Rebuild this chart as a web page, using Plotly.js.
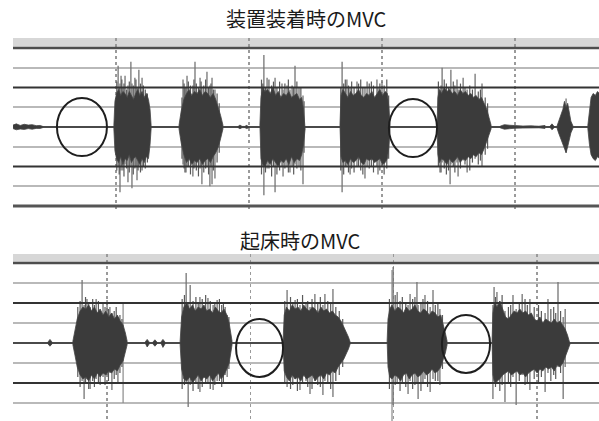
<!DOCTYPE html>
<html><head><meta charset="utf-8">
<script src="https://cdn.plot.ly/plotly-3.0.1.min.js"></script>
<style>html,body{margin:0;padding:0;background:#fff}#chart{width:599px;height:421px}</style>
</head><body><div id="chart"></div>
<script>
// ---- Titles ----
const topTitle = '装置装着時のMVC';
const bottomTitle = '起床時のMVC';

// ---- Time ranges (s) ----
const topTimeRange = [1.128, 23.158];
const bottomTimeRange = [1.72, 22.16];

// ---- Top panel: EMG burst envelopes (time s, upper / lower amplitude) ----
const topBurstT = [
  [1.13,1.25,1.40,1.55,1.70,1.85,2.00,2.15,2.25],
  [4.92,4.96,5.02,5.10,5.18,5.26,5.34,5.42,5.50,5.58,5.66,5.74,5.82,5.90,5.98,6.06,6.14,6.22,6.28,6.32],
  [7.37,7.45,7.55,7.65,7.75,7.85,7.95,8.05,8.15,8.25,8.35,8.45,8.55,8.65,8.75,8.85,8.93,9.02],
  [9.58,9.66,9.74,9.84,9.92,10.00],
  [10.41,10.45,10.52,10.60,10.70,10.80,10.90,11.00,11.10,11.20,11.30,11.40,11.50,11.60,11.70,11.80,11.90,11.98,12.05,12.11],
  [13.42,13.46,13.53,13.62,13.72,13.82,13.92,14.02,14.12,14.22,14.32,14.42,14.52,14.62,14.72,14.82,14.92,15.02,15.12,15.20,15.26,15.30],
  [17.07,17.10,17.16,17.24,17.34,17.44,17.54,17.64,17.74,17.84,17.94,18.04,18.14,18.24,18.34,18.44,18.54,18.64,18.74,18.84,18.94,19.02,19.10],
  [19.44,19.60,19.80,20.00,20.30,20.60,20.90,21.13],
  [21.30,21.39,21.48],
  [21.58,21.64,21.72,21.80,21.86,21.92,21.98,22.04,22.10,22.18],
  [22.74,22.80,22.86,22.94,23.02,23.10,23.18]
];
const topBurstUpper = [
  [0.10,0.16,0.08,0.14,0.10,0.12,0.07,0.08,0.03],
  [0.1,1.3,1.7,1.9,1.6,1.8,1.7,1.5,1.8,1.6,1.4,1.7,1.9,1.6,1.8,1.5,1.7,1.4,0.9,0.1],
  [0.1,0.8,1.4,1.7,1.9,1.6,1.8,1.7,1.9,1.6,1.8,1.7,1.5,1.7,1.4,1.0,0.6,0.1],
  [0.02,0.10,0.03,0.03,0.09,0.02],
  [0.1,1.5,2.0,1.8,1.9,1.7,2.0,1.6,1.8,1.5,1.7,1.6,1.8,1.5,1.6,1.7,1.4,1.5,0.9,0.1],
  [0.1,1.6,1.9,1.7,1.5,1.8,1.6,1.7,1.9,1.6,1.5,1.7,1.6,1.8,1.5,1.7,1.9,1.6,1.8,1.7,1.0,0.1],
  [0.1,1.5,1.9,1.7,2.0,1.8,1.9,1.7,1.8,1.6,1.9,1.7,1.8,1.6,1.7,1.5,1.6,1.4,1.5,1.2,0.9,0.5,0.1],
  [0.04,0.12,0.09,0.06,0.05,0.06,0.04,0.08],
  [0.02,0.16,0.02],
  [0.05,0.3,0.6,0.9,1.3,1.0,1.2,0.7,0.3,0.05],
  [0.1,0.9,1.5,1.7,1.6,1.8,1.7]
];
const topBurstLower = [
  [-0.08,-0.14,-0.10,-0.12,-0.08,-0.11,-0.07,-0.07,-0.03],
  [-0.1,-1.2,-1.6,-1.8,-1.5,-1.9,-1.6,-1.7,-1.4,-1.8,-1.6,-1.5,-1.7,-1.9,-1.6,-1.8,-1.5,-1.6,-0.9,-0.1],
  [-0.1,-0.8,-1.4,-1.8,-1.6,-1.9,-1.7,-1.8,-1.6,-1.9,-1.7,-1.6,-1.8,-1.5,-1.3,-1.0,-0.6,-0.1],
  [-0.02,-0.09,-0.03,-0.03,-0.08,-0.02],
  [-0.1,-1.6,-1.9,-2.0,-1.7,-1.9,-1.6,-1.8,-2.0,-1.7,-1.8,-1.6,-1.9,-1.5,-1.8,-1.6,-1.7,-1.4,-0.9,-0.1],
  [-0.1,-1.5,-1.8,-1.7,-1.9,-1.6,-1.8,-1.7,-1.5,-1.8,-1.9,-1.6,-1.7,-1.6,-1.8,-1.7,-1.6,-1.9,-1.8,-1.6,-1.0,-0.1],
  [-0.1,-1.4,-1.8,-1.6,-1.7,-1.9,-1.6,-1.8,-1.7,-1.5,-1.8,-1.6,-1.7,-1.5,-1.6,-1.4,-1.5,-1.3,-1.4,-1.1,-0.8,-0.4,-0.1],
  [-0.04,-0.11,-0.08,-0.06,-0.05,-0.06,-0.04,-0.07],
  [-0.02,-0.14,-0.02],
  [-0.05,-0.3,-0.6,-0.9,-1.1,-1.3,-1.0,-0.7,-0.3,-0.05],
  [-0.1,-0.9,-1.4,-1.6,-1.7,-1.5,-1.6]
];
// Top panel: tall individual peaks
const topSpikeT  = [5.08,5.15,5.19,5.26,5.34,5.45,5.56,5.60,5.71,5.79,5.86,5.98,
                    7.52,7.59,7.67,7.89,7.97,8.16,8.23,8.42,8.53,8.61,8.72,
                    10.56,10.68,10.98,11.24,11.28,11.43,11.54,11.73,11.88,12.03,
                    13.50,13.68,13.80,14.06,14.36,14.44,14.81,14.85,15.00,
                    17.18,17.26,17.56,17.59,17.82,17.86,18.05,18.20,18.50,18.76,
                    21.92];
const topSpikeHi = [3.1,2.2,2.6,2.0,2.6,2.1,3.3,2.2,2.5,2.0,2.9,2.5,
                    2.4,2.0,2.6,2.1,3.3,2.5,2.0,2.8,2.1,2.5,1.9,
                    3.65,2.5,2.5,2.2,1.9,2.1,1.9,3.1,2.0,1.6,
                    3.3,2.4,2.0,2.3,2.0,2.3,2.4,2.0,2.3,
                    1.9,3.0,2.0,2.9,2.4,1.9,2.5,1.9,2.7,2.2,
                    1.45];
const topSpikeLo = [-2.0,-3.3,-2.2,-2.2,-1.9,-2.8,-2.0,-3.1,-2.1,-2.7,-2.0,-2.2,
                    -1.9,-2.3,-2.0,-2.5,-2.0,-2.1,-2.9,-2.0,-3.0,-2.9,-2.6,
                    -3.45,-2.1,-3.3,-2.0,-2.5,-2.0,-2.3,-1.9,-2.0,-2.9,
                    -3.3,-2.0,-2.4,-2.0,-2.6,-2.0,-2.0,-2.4,-2.0,
                    -2.3,-1.8,-2.9,-1.9,-1.8,-2.5,-1.7,-2.3,-1.6,-2.0,
                    -1.3];
// Top panel: ragged fringe peaks just outside the dense core
const topFringeT  = [5.03,5.12,5.22,5.30,5.40,5.50,5.65,5.75,5.83,5.92,6.03,6.10,6.18,
                     7.48,7.56,7.63,7.72,7.80,7.93,8.02,8.10,8.20,8.30,8.37,8.48,8.57,8.66,8.80,8.88,
                     10.47,10.52,10.62,10.75,10.85,10.92,11.05,11.15,11.35,11.48,11.62,11.68,11.80,11.95,12.07,
                     13.45,13.56,13.62,13.74,13.86,13.95,14.12,14.20,14.28,14.52,14.60,14.68,14.92,15.08,15.18,15.25,
                     17.12,17.22,17.34,17.42,17.50,17.68,17.74,17.95,18.12,18.30,18.40,18.62,18.70,18.88,18.97];
const topFringeHi = [2.3,2.0,2.4,2.2,1.9,2.3,2.1,2.4,2.0,2.2,2.1,1.9,1.7,
                     1.5,2.2,2.0,2.3,2.1,2.4,2.2,2.0,2.3,2.1,2.4,2.0,2.2,1.9,1.7,1.2,
                     2.4,2.2,2.0,2.4,2.1,2.3,2.0,2.3,2.2,2.4,2.1,2.0,2.3,2.0,1.3,
                     2.0,2.2,2.4,2.1,2.3,2.0,2.2,2.4,2.0,2.2,2.3,2.1,2.2,2.1,2.4,1.6,
                     2.3,2.1,2.4,2.2,2.0,2.3,2.1,2.2,2.0,2.1,1.9,1.8,1.9,1.5,1.2];
const topFringeLo = [-2.2,-2.4,-2.0,-2.5,-2.1,-2.3,-2.4,-2.0,-2.2,-2.3,-2.0,-2.1,-1.8,
                     -1.6,-2.1,-2.3,-2.0,-2.4,-2.1,-2.2,-2.5,-2.0,-2.3,-2.1,-2.4,-2.0,-2.2,-1.8,-1.3,
                     -2.4,-2.0,-2.3,-2.1,-2.5,-2.0,-2.4,-2.2,-2.1,-2.3,-2.0,-2.4,-2.1,-2.2,-1.3,
                     -2.2,-2.4,-2.0,-2.3,-2.1,-2.3,-2.0,-2.2,-2.4,-2.1,-2.0,-2.3,-2.2,-2.4,-2.1,-1.6,
                     -2.0,-2.3,-2.1,-2.4,-2.2,-2.0,-2.3,-2.1,-1.9,-2.2,-1.8,-1.9,-1.7,-1.4,-1.1];

// ---- Bottom panel ----
const bottomBurstT = [
  [2.93,3.01,3.09],
  [3.81,3.88,3.96,4.06,4.16,4.26,4.36,4.46,4.56,4.66,4.76,4.86,4.96,5.06,5.16,5.26,5.36,5.46,5.56,5.64,5.70],
  [6.32,6.40,6.48],
  [6.59,6.67,6.75],
  [6.87,6.95,7.03],
  [7.55,7.60,7.68,7.78,7.88,7.98,8.08,8.18,8.28,8.38,8.48,8.58,8.68,8.78,8.88,8.98,9.08,9.18,9.26,9.32,9.36],
  [11.14,11.18,11.26,11.36,11.46,11.56,11.66,11.76,11.86,11.96,12.06,12.16,12.26,12.36,12.46,12.56,12.66,12.76,12.86,12.96,13.06,13.16,13.26,13.36,13.42,13.48],
  [14.77,14.80,14.86,14.94,15.04,15.14,15.24,15.34,15.44,15.54,15.64,15.74,15.84,15.94,16.04,16.14,16.24,16.34,16.44,16.54,16.64,16.72,16.80,16.86],
  [18.43,18.46,18.52,18.60,18.70,18.80,18.90,19.00,19.10,19.20,19.30,19.40,19.50,19.60,19.70,19.80,19.90,20.00,20.10,20.20,20.30,20.40,20.50,20.60,20.70,20.80,20.90,20.98,21.06,21.15]
];
const bottomBurstUpper = [
  [0.03,0.18,0.03],
  [0.1,0.6,1.2,1.6,1.8,1.7,1.9,1.6,1.8,1.5,1.7,1.4,1.6,1.3,1.5,1.2,1.4,1.1,0.9,0.5,0.1],
  [0.03,0.18,0.03],
  [0.03,0.16,0.03],
  [0.03,0.18,0.03],
  [0.1,1.3,1.8,2.0,1.7,1.9,1.6,1.8,1.7,1.9,1.6,1.7,1.5,1.8,1.6,1.5,1.7,1.4,1.0,0.5,0.1],
  [0.1,1.4,1.8,1.6,1.9,1.7,1.8,1.6,1.9,1.7,1.6,1.8,1.7,1.5,1.8,1.6,1.7,1.5,1.6,1.4,1.3,1.1,0.8,0.5,0.3,0.05],
  [0.1,1.2,1.7,1.9,1.6,1.8,1.7,1.5,1.8,1.6,1.7,1.9,1.6,1.5,1.7,1.6,1.4,1.6,1.5,1.3,1.4,1.0,0.5,0.1],
  [0.1,1.5,2.0,1.8,2.1,1.7,1.3,1.2,1.4,1.6,1.5,1.7,1.5,1.6,1.4,1.5,1.2,1.1,1.3,1.0,1.2,1.1,1.0,1.2,1.0,1.1,0.9,0.7,0.4,0.05]
];
const bottomBurstLower = [
  [-0.03,-0.16,-0.03],
  [-0.1,-0.6,-1.2,-1.6,-1.8,-1.7,-1.9,-1.6,-1.8,-1.5,-1.7,-1.5,-1.6,-1.4,-1.5,-1.3,-1.4,-1.1,-0.9,-0.5,-0.1],
  [-0.03,-0.2,-0.03],
  [-0.03,-0.16,-0.03],
  [-0.03,-0.22,-0.03],
  [-0.1,-1.3,-1.8,-1.9,-1.7,-2.0,-1.8,-1.6,-1.9,-1.7,-1.8,-1.6,-1.9,-1.7,-1.5,-1.8,-1.6,-1.3,-1.0,-0.5,-0.1],
  [-0.1,-1.4,-1.7,-1.9,-1.6,-1.8,-1.7,-1.9,-1.6,-1.8,-1.7,-1.6,-1.9,-1.7,-1.6,-1.8,-1.5,-1.6,-1.4,-1.5,-1.2,-1.0,-0.8,-0.5,-0.3,-0.05],
  [-0.1,-1.2,-1.7,-1.8,-1.6,-1.7,-1.9,-1.6,-1.5,-1.8,-1.6,-1.5,-1.7,-1.6,-1.4,-1.6,-1.5,-1.3,-1.5,-1.4,-1.2,-0.9,-0.5,-0.1],
  [-0.1,-1.6,-2.0,-1.9,-1.8,-1.6,-1.5,-1.4,-1.6,-1.5,-1.4,-1.6,-1.5,-1.7,-1.5,-1.4,-1.3,-1.5,-1.3,-1.4,-1.2,-1.3,-1.2,-1.4,-1.1,-1.2,-1.0,-0.7,-0.4,-0.05]
];
const bottomSpikeT  = [4.13,4.20,4.30,4.41,4.62,4.76,4.86,5.00,5.10,5.17,5.38,
                       7.76,7.83,7.90,8.24,8.52,8.70,8.84,9.12,9.19,
                       11.28,11.56,11.73,11.94,12.08,12.25,12.53,12.60,12.88,
                       14.98,15.12,15.50,15.57,15.81,15.85,16.09,16.27,16.37,16.61,
                       18.46,18.50,18.60,18.88,19.16,19.27,19.48,19.75,20.28,20.38,20.73,20.91,20.98];
const bottomSpikeHi = [3.15,1.9,2.2,1.8,2.2,1.6,1.95,2.15,1.8,1.5,1.3,
                       3.5,2.0,2.9,2.3,2.25,1.9,2.15,1.8,1.4,
                       2.65,2.15,1.9,2.05,1.8,2.45,1.9,2.45,2.7,
                       3.8,2.55,1.9,2.45,3.05,1.9,2.4,1.8,2.65,1.7,
                       1.9,2.8,2.55,1.6,2.4,1.7,2.45,2.2,1.5,2.2,3.05,1.3,1.7];
const bottomSpikeLo = [-1.9,-2.8,-1.8,-2.3,-1.8,-2.1,-1.7,-1.6,-1.5,-2.35,-1.95,
                       -2.0,-3.2,-2.1,-2.45,-2.0,-2.35,-1.9,-1.6,-1.7,
                       -2.2,-1.8,-2.35,-1.9,-2.55,-1.9,-2.6,-1.9,-2.7,
                       -3.1,-2.0,-2.55,-1.9,-2.0,-2.8,-1.8,-2.45,-1.8,-2.1,
                       -2.8,-1.9,-2.0,-2.95,-1.7,-3.1,-1.6,-2.35,-2.45,-1.5,-1.2,-2.8,-1.2];
const bottomFringeT  = [3.98,4.06,4.25,4.36,4.50,4.56,4.70,4.93,5.05,5.25,5.32,5.45,5.52,
                        7.62,7.70,8.00,8.10,8.18,8.32,8.44,8.60,8.76,8.92,9.00,9.06,9.25,
                        11.20,11.40,11.48,11.64,11.82,12.00,12.15,12.35,12.44,12.70,12.80,12.98,13.10,13.22,
                        14.85,15.05,15.22,15.30,15.42,15.66,15.74,15.95,16.02,16.18,16.45,16.54,16.70,
                        18.55,18.70,18.78,19.00,19.08,19.38,19.58,19.66,19.90,20.05,20.15,20.48,20.58,20.65,20.82];
const bottomFringeHi = [1.8,2.1,2.3,2.0,2.2,1.9,2.1,1.8,1.7,1.6,1.8,1.4,1.2,
                        2.2,2.4,2.1,2.3,2.0,2.2,2.4,2.1,2.0,2.2,1.9,2.0,1.3,
                        2.1,2.3,2.0,2.2,2.4,2.1,2.2,2.0,2.3,2.1,2.0,1.8,1.6,1.2,
                        2.2,2.4,2.1,2.3,2.0,2.2,2.3,2.0,2.2,2.1,1.9,2.0,1.4,
                        2.3,2.1,2.4,1.8,1.9,2.0,2.2,1.9,1.8,1.9,1.6,1.7,1.8,1.5,1.6];
const bottomFringeLo = [-1.7,-2.2,-2.0,-2.3,-1.9,-2.2,-2.0,-2.1,-1.9,-1.8,-1.6,-1.5,-1.2,
                        -2.3,-2.1,-2.4,-2.0,-2.3,-2.2,-2.0,-2.3,-2.1,-1.9,-2.2,-2.0,-1.3,
                        -2.0,-2.3,-2.1,-2.4,-2.0,-2.2,-2.3,-2.1,-2.2,-2.0,-2.3,-1.9,-1.6,-1.2,
                        -2.3,-2.1,-2.4,-2.0,-2.2,-2.3,-2.1,-2.4,-2.0,-2.2,-1.9,-1.9,-1.3,
                        -2.2,-2.4,-2.1,-2.0,-2.2,-1.9,-2.1,-2.0,-1.8,-2.0,-1.7,-1.9,-1.6,-1.8,-1.5];
// Cursor lines in the bottom record (time, from, to)
const bottomCursorT = [5.56, 14.94];
const bottomCursorFrom = [-3.0, -3.9];
const bottomCursorTo = [1.95, 3.65];

// Circled rest periods: [t start, t end, amp low, amp high]
const topRestT0 = [2.78, 15.26], topRestT1 = [4.66, 17.07], topRestA0 = [-1.47, -1.52], topRestA1 = [1.47, 1.42];
const bottomRestT0 = [9.50, 16.68], bottomRestT1 = [11.14, 18.36], bottomRestA0 = [-1.7, -1.5], bottomRestA1 = [1.2, 1.4];

// ---- build traces ----
function bodyTrace(T, U, L, xa, ya) {
  const x = [], y = [];
  T.forEach((t, i) => {
    x.push(...t, ...t.slice().reverse(), t[0], null);
    y.push(...U[i], ...L[i].slice().reverse(), U[i][0], null);
  });
  return {x, y, xaxis: xa, yaxis: ya, mode: 'lines', fill: 'toself', fillcolor: '#3b3b3b',
          line: {color: '#454545', width: 0.8}, hoverinfo: 'skip', showlegend: false};
}
function spikeTrace(T, H, Lo, xa, ya, color, width) {
  const x = [], y = [];
  T.forEach((t, i) => { x.push(t, t, null); y.push(Lo[i], H[i], null); });
  return {x, y, xaxis: xa, yaxis: ya, mode: 'lines', line: {color: color, width: width},
          hoverinfo: 'skip', showlegend: false};
}
function baseline(range, xa, ya) {
  return {x: range, y: [0, 0], xaxis: xa, yaxis: ya, mode: 'lines',
          line: {color: '#4a4a4a', width: 2}, hoverinfo: 'skip', showlegend: false};
}
const traces = [
  baseline(topTimeRange, 'x', 'y'),
  spikeTrace(topSpikeT, topSpikeHi, topSpikeLo, 'x', 'y', '#747474', 1.3),
  spikeTrace(topFringeT, topFringeHi, topFringeLo, 'x', 'y', '#5a5a5a', 1.2),
  bodyTrace(topBurstT, topBurstUpper, topBurstLower, 'x', 'y'),
  baseline(bottomTimeRange, 'x2', 'y2'),
  spikeTrace(bottomCursorT, bottomCursorTo, bottomCursorFrom, 'x2', 'y2', '#8a8a8a', 1.2),
  spikeTrace(bottomSpikeT, bottomSpikeHi, bottomSpikeLo, 'x2', 'y2', '#747474', 1.3),
  spikeTrace(bottomFringeT, bottomFringeHi, bottomFringeLo, 'x2', 'y2', '#5a5a5a', 1.2),
  bodyTrace(bottomBurstT, bottomBurstUpper, bottomBurstLower, 'x2', 'y2')
];

// ---- shapes ----
const shapes = [];
function hline(xa, ya, range, yv, color, w) {
  shapes.push({type: 'line', xref: xa, yref: ya, x0: range[0], x1: range[1] + 1, y0: yv, y1: yv,
               line: {color: color, width: w}, layer: 'above'});
}
shapes.push({type: 'rect', xref: 'x', yref: 'y', x0: topTimeRange[0], x1: topTimeRange[1] + 1, y0: 4.06, y1: 4.506,
             fillcolor: '#d7d7d7', line: {width: 0}, layer: 'below'});
shapes.push({type: 'rect', xref: 'x2', yref: 'y2', x0: bottomTimeRange[0], x1: bottomTimeRange[1] + 1, y0: 4.06, y1: 4.45,
             fillcolor: '#d7d7d7', line: {width: 0}, layer: 'below'});
hline('x', 'y', topTimeRange, 4, '#4d4d4d', 2.5); hline('x', 'y', topTimeRange, 2, '#333', 2);
hline('x', 'y', topTimeRange, -2, '#333', 2); hline('x', 'y', topTimeRange, -4, '#555', 3);
hline('x2', 'y2', bottomTimeRange, 4, '#4d4d4d', 2.5); hline('x2', 'y2', bottomTimeRange, 2, '#333', 2);
hline('x2', 'y2', bottomTimeRange, -2, '#333', 2);
function circles(T0, T1, A0, A1, xr, yr) {
  T0.forEach((t, i) => shapes.push({type: 'circle', xref: xr, yref: yr, x0: t, x1: T1[i], y0: A0[i], y1: A1[i],
    line: {color: '#1e1e1e', width: 2}, layer: 'above'}));
}
circles(topRestT0, topRestT1, topRestA0, topRestA1, 'x', 'y');
circles(bottomRestT0, bottomRestT1, bottomRestA0, bottomRestA1, 'x2', 'y2');

const xCommon = {showgrid: true, griddash: 'dot', gridcolor: '#9a9a9a', gridwidth: 1.5, tick0: 0, dtick: 5,
  showticklabels: false, ticks: '', zeroline: false, showline: false, fixedrange: true};
const yCommon = {showgrid: true, gridcolor: '#b9b9b9', gridwidth: 1.8, tickvals: [-3, -1, 1, 3],
  showticklabels: false, ticks: '', zeroline: false, showline: false, fixedrange: true};

const font = {family: '"Noto Sans CJK JP", "Noto Sans", sans-serif', size: 20, color: '#1a1a1a'};
const layout = {
  width: 599, height: 421, margin: {l: 0, r: 0, t: 0, b: 0},
  paper_bgcolor: '#ffffff', plot_bgcolor: '#ffffff', showlegend: false, hovermode: false,
  xaxis: Object.assign({}, xCommon, {domain: [0.0217, 1], range: topTimeRange, anchor: 'y'}),
  yaxis: Object.assign({}, yCommon, {domain: [0.5012, 0.9097], range: [-4.2, 4.506], anchor: 'x'}),
  xaxis2: Object.assign({}, xCommon, {domain: [0.0217, 1], range: bottomTimeRange, anchor: 'y2'}),
  yaxis2: Object.assign({}, yCommon, {domain: [0, 0.3967], range: [-3.9, 4.45], anchor: 'x2'}),
  shapes: shapes,
  annotations: [
    {text: topTitle, xref: 'paper', yref: 'paper', x: 307 / 599, y: 1 - 18 / 421, xanchor: 'center', yanchor: 'middle', showarrow: false, font: font},
    {text: bottomTitle, xref: 'paper', yref: 'paper', x: 300 / 599, y: 1 - 240 / 421, xanchor: 'center', yanchor: 'middle', showarrow: false, font: font}
  ]
};
Plotly.newPlot('chart', traces, layout, {staticPlot: true, displayModeBar: false});
</script>
</body></html>
